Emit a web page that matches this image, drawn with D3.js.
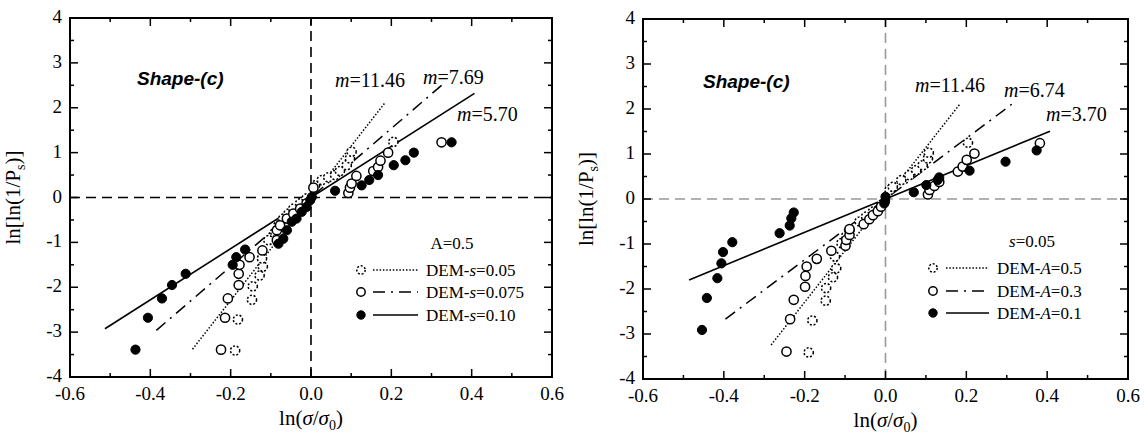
<!DOCTYPE html>
<html>
<head>
<meta charset="utf-8">
<script src="https://cdn.jsdelivr.net/npm/d3@7"></script>
<style>
  body { margin: 0; background: #fff; }
</style>
</head>
<body>
<script>
// ---- data ----
const xTicks = [-0.6, -0.4, -0.2, 0.0, 0.2, 0.4, 0.6];
const yTicks = [-4, -3, -2, -1, 0, 1, 2, 3, 4];

// left panel: A=0.5, varying s
const leftS005 = [
  [-0.189, -3.41], [-0.182, -2.72], [-0.147, -2.28], [-0.145, -1.98], [-0.128, -1.74],
  [-0.120, -1.54], [-0.122, -1.36], [-0.106, -0.95], [-0.089, -0.77], [-0.081, -0.62],
  [-0.069, -0.47], [-0.056, -0.36], [-0.044, -0.25], [-0.027, -0.13], [-0.011, -0.02],
  [0.010, 0.27], [0.027, 0.39], [0.043, 0.45], [0.060, 0.50], [0.072, 0.59],
  [0.089, 0.72], [0.097, 0.87], [0.101, 1.02], [0.205, 1.24]
];
const leftS0075 = [
  [-0.224, -3.39], [-0.214, -2.68], [-0.207, -2.25], [-0.180, -1.95], [-0.180, -1.70],
  [-0.178, -1.50], [-0.153, -1.33], [-0.121, -1.18], [-0.085, -0.95], [-0.085, -0.73],
  [-0.077, -0.62], [-0.060, -0.47], [-0.044, -0.36], [-0.027, -0.25], [-0.011, -0.13],
  [0.006, 0.22], [0.093, 0.10], [0.097, 0.22], [0.101, 0.31], [0.113, 0.48],
  [0.155, 0.59], [0.167, 0.68], [0.173, 0.82], [0.192, 1.00], [0.325, 1.23]
];
const leftS010 = [
  [-0.437, -3.39], [-0.406, -2.68], [-0.371, -2.25], [-0.346, -1.95], [-0.312, -1.70],
  [-0.195, -1.50], [-0.186, -1.33], [-0.164, -1.16], [-0.081, -1.03], [-0.069, -0.92],
  [-0.060, -0.73], [-0.048, -0.54], [-0.036, -0.47], [-0.023, -0.32], [-0.011, -0.21],
  [-0.002, -0.06], [0.002, 0.01], [0.060, 0.15], [0.126, 0.27], [0.145, 0.39],
  [0.167, 0.50], [0.206, 0.72], [0.235, 0.83], [0.256, 1.00], [0.350, 1.23]
];

// right panel: s=0.05, varying A
const rightA05 = [
  [-0.190, -3.41], [-0.181, -2.70], [-0.148, -2.26], [-0.147, -1.98], [-0.130, -1.74],
  [-0.122, -1.54], [-0.125, -1.28], [-0.109, -0.98], [-0.097, -0.82], [-0.089, -0.69],
  [-0.064, -0.50], [-0.048, -0.39], [-0.031, -0.28], [-0.011, -0.13], [0.010, 0.20],
  [0.018, 0.27], [0.039, 0.42], [0.059, 0.53], [0.076, 0.64], [0.092, 0.75],
  [0.105, 0.90], [0.107, 1.03], [0.204, 1.25]
];
const rightA03 = [
  [-0.245, -3.39], [-0.236, -2.67], [-0.227, -2.24], [-0.199, -1.95], [-0.198, -1.71],
  [-0.195, -1.50], [-0.170, -1.33], [-0.134, -1.15], [-0.099, -1.04], [-0.097, -0.91],
  [-0.089, -0.80], [-0.089, -0.67], [-0.054, -0.56], [-0.040, -0.45], [-0.031, -0.36],
  [-0.019, -0.27], [-0.011, -0.17], [0.105, 0.10], [0.109, 0.20], [0.121, 0.29],
  [0.133, 0.38], [0.179, 0.61], [0.191, 0.72], [0.201, 0.87], [0.220, 1.01], [0.382, 1.24]
];
const rightA01 = [
  [-0.454, -2.91], [-0.442, -2.20], [-0.416, -1.76], [-0.406, -1.43], [-0.402, -1.18],
  [-0.379, -0.96], [-0.262, -0.76], [-0.237, -0.59], [-0.233, -0.43], [-0.227, -0.30],
  [-0.003, -0.10], [-0.001, -0.05], [0.000, 0.05], [0.070, 0.15], [0.101, 0.31],
  [0.129, 0.42], [0.133, 0.48], [0.208, 0.63], [0.297, 0.83], [0.374, 1.08]
];

// fitted lines: slope m, x range
const leftFits = [
  { m: 11.46, x0: -0.295, x1: 0.184, style: 'dot' },
  { m: 7.69, x0: -0.385, x1: 0.335, style: 'dashdot' },
  { m: 5.70, x0: -0.513, x1: 0.407, style: 'solid' }
];
const rightFits = [
  { m: 11.46, x0: -0.283, x1: 0.185, style: 'dot' },
  { m: 6.74, x0: -0.396, x1: 0.316, style: 'dashdot' },
  { m: 3.70, x0: -0.486, x1: 0.407, style: 'solid' }
];

const dashes = { dot: '1.5,1.8', dashdot: '12,6,2,6', solid: null };
const SERIF = '"Liberation Serif", "Times New Roman", serif';
const SANS = '"Liberation Sans", Arial, sans-serif';

const svg = d3.select('body').append('svg')
  .attr('width', 1147)
  .attr('height', 438)
  .attr('font-family', SERIF);

function drawPanel(p) {
  const x = d3.scaleLinear().domain([-0.6, 0.6]).range([p.left, p.right]);
  const y = d3.scaleLinear().domain([-4, 4]).range([p.bottom, p.top]);
  const g = svg.append('g');

  // zero reference lines
  g.append('line').attr('x1', x(-0.6)).attr('x2', x(0.6)).attr('y1', y(0)).attr('y2', y(0))
    .attr('stroke', p.zeroColor).attr('stroke-width', 1.6).attr('stroke-dasharray', '10,6');
  g.append('line').attr('x1', x(0)).attr('x2', x(0)).attr('y1', y(-4)).attr('y2', y(4))
    .attr('stroke', p.zeroColor).attr('stroke-width', 1.6).attr('stroke-dasharray', '10,6');

  // fitted lines
  p.fits.forEach(f => {
    g.append('line')
      .attr('x1', x(f.x0)).attr('y1', y(f.m * f.x0))
      .attr('x2', x(f.x1)).attr('y2', y(f.m * f.x1))
      .attr('stroke', '#000')
      .attr('stroke-width', f.style === 'solid' ? 1.6 : 1.5)
      .attr('stroke-dasharray', dashes[f.style]);
  });

  // points
  const marker = (data, kind) => {
    g.selectAll(null).data(data).enter().append('circle')
      .attr('cx', d => x(d[0])).attr('cy', d => y(d[1])).attr('r', 4.6)
      .attr('fill', kind === 'filled' ? '#000' : '#fff')
      .attr('stroke', '#000')
      .attr('stroke-width', kind === 'filled' ? 1 : 1.5)
      .attr('stroke-dasharray', kind === 'dotted' ? '2,1.8' : null);
  };
  marker(p.series[0], 'dotted');
  marker(p.series[1], 'open');
  marker(p.series[2], 'filled');

  // frame
  g.append('rect').attr('x', p.left).attr('y', p.top)
    .attr('width', p.right - p.left).attr('height', p.bottom - p.top)
    .attr('fill', 'none').attr('stroke', '#000').attr('stroke-width', 2);

  // ticks, inward on all sides
  const xMinor = d3.range(-5, 6).map(i => i / 10);
  const yMinor = d3.range(-7, 8, 2).map(i => i / 2);
  xMinor.forEach(v => {
    const major = xTicks.some(t => Math.abs(t - v) < 1e-9);
    const len = major ? 8 : 4;
    g.append('line').attr('x1', x(v)).attr('x2', x(v)).attr('y1', y(-4)).attr('y2', y(-4) - len)
      .attr('stroke', '#000').attr('stroke-width', 1.5);
    g.append('line').attr('x1', x(v)).attr('x2', x(v)).attr('y1', y(4)).attr('y2', y(4) + len)
      .attr('stroke', '#000').attr('stroke-width', 1.5);
  });
  yTicks.concat(yMinor).forEach(v => {
    if (v === -4 || v === 4) return;
    const len = Number.isInteger(v) ? 8 : 4;
    g.append('line').attr('y1', y(v)).attr('y2', y(v)).attr('x1', x(-0.6)).attr('x2', x(-0.6) + len)
      .attr('stroke', '#000').attr('stroke-width', 1.5);
    g.append('line').attr('y1', y(v)).attr('y2', y(v)).attr('x1', x(0.6)).attr('x2', x(0.6) - len)
      .attr('stroke', '#000').attr('stroke-width', 1.5);
  });

  // tick labels
  g.selectAll(null).data(xTicks).enter().append('text')
    .attr('x', d => x(d)).attr('y', p.bottom + 23)
    .attr('text-anchor', 'middle').attr('font-size', 19)
    .attr('font-family', SERIF)
    .text(d => d3.format('.1f')(d).replace('−', '-'));
  g.selectAll(null).data(yTicks).enter().append('text')
    .attr('x', p.left - 8).attr('y', d => y(d) + 5)
    .attr('text-anchor', 'end').attr('font-size', 19)
    .attr('font-family', SERIF)
    .text(d => String(d));

  // axis titles
  const xl = g.append('text').attr('x', (p.left + p.right) / 2).attr('y', p.bottom + 48)
    .attr('text-anchor', 'middle').attr('font-size', 21).attr('font-family', SERIF);
  xl.append('tspan').text('ln(');
  xl.append('tspan').attr('font-style', 'italic').text('σ');
  xl.append('tspan').text('/');
  xl.append('tspan').attr('font-style', 'italic').text('σ');
  xl.append('tspan').attr('font-size', 14).attr('dy', 5).text('0');
  xl.append('tspan').attr('dy', -5).text(')');

  const yl = g.append('text')
    .attr('transform', `translate(${p.left - 50},${(p.top + p.bottom) / 2}) rotate(-90)`)
    .attr('text-anchor', 'middle').attr('font-size', 21).attr('font-family', SERIF);
  yl.append('tspan').text('ln[ln(1/P');
  yl.append('tspan').attr('font-size', 14).attr('dy', 5).text('s');
  yl.append('tspan').attr('dy', -5).text(')]');

  // panel tag
  g.append('text').attr('x', p.tag[0]).attr('y', p.tag[1])
    .attr('font-family', SANS)
    .attr('font-weight', 'bold').attr('font-style', 'italic').attr('font-size', 19)
    .text('Shape-(c)');

  // slope labels
  p.fits.forEach((f, i) => {
    const t = g.append('text').attr('x', p.mLabels[i][0]).attr('y', p.mLabels[i][1])
      .attr('font-size', 20).attr('font-family', SERIF);
    t.append('tspan').attr('font-style', 'italic').text('m');
    t.append('tspan').text('=' + f.m.toFixed(2));
  });

  // legend
  const L = p.legend;
  const title = g.append('text').attr('x', L.titleX).attr('y', L.titleY)
    .attr('text-anchor', 'middle').attr('font-size', 17).attr('font-family', SERIF);
  p.legendTitle(title);
  ['dotted', 'open', 'filled'].forEach((kind, i) => {
    const ry = L.rows[i];
    g.append('circle').attr('cx', L.sym).attr('cy', ry - 6).attr('r', 4.2)
      .attr('fill', kind === 'filled' ? '#000' : '#fff').attr('stroke', '#000')
      .attr('stroke-width', kind === 'filled' ? 1 : 1.5)
      .attr('stroke-dasharray', kind === 'dotted' ? '2,1.8' : null);
    g.append('line').attr('x1', L.line0).attr('x2', L.line1).attr('y1', ry - 6).attr('y2', ry - 6)
      .attr('stroke', '#000').attr('stroke-width', 1.5)
      .attr('stroke-dasharray', dashes[['dot', 'dashdot', 'solid'][i]]);
    const t = g.append('text').attr('x', L.text).attr('y', ry).attr('font-size', 17)
      .attr('font-family', SERIF);
    t.append('tspan').text('DEM-');
    t.append('tspan').attr('font-style', 'italic').text(p.legendVar);
    t.append('tspan').text('=' + p.legendVals[i]);
  });
}

drawPanel({
  left: 70, right: 552, top: 18, bottom: 377,
  zeroColor: '#000',
  series: [leftS005, leftS0075, leftS010],
  fits: leftFits,
  tag: [137, 85],
  mLabels: [[335, 87], [423, 84], [457, 121]],
  legend: { titleX: 452, titleY: 249, rows: [276, 298, 321], sym: 361, line0: 373, line1: 418, text: 426 },
  legendTitle: t => t.text('A=0.5'),
  legendVar: 's',
  legendVals: ['0.05', '0.075', '0.10']
});

drawPanel({
  left: 643, right: 1128, top: 19, bottom: 379,
  zeroColor: '#999',
  series: [rightA05, rightA03, rightA01],
  fits: rightFits,
  tag: [703, 88],
  mLabels: [[915, 92], [1004, 97], [1046, 121]],
  legend: { titleX: 1032, titleY: 247, rows: [274, 297, 319], sym: 933, line0: 946, line1: 989, text: 997 },
  legendTitle: t => { t.append('tspan').attr('font-style', 'italic').text('s'); t.append('tspan').text('=0.05'); },
  legendVar: 'A',
  legendVals: ['0.5', '0.3', '0.1']
});
</script>
</body>
</html>
